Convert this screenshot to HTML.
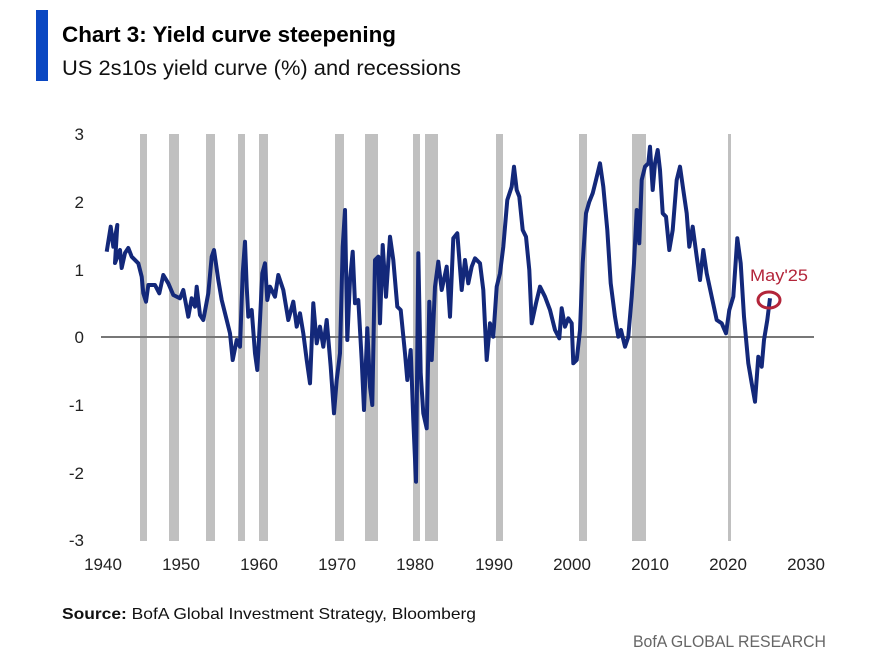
<!DOCTYPE html>
<html><head><meta charset="utf-8"><style>
html,body{margin:0;padding:0;background:#fff;}
svg{display:block;font-family:"Liberation Sans",sans-serif;}
</style></head><body>
<svg width="869" height="669" viewBox="0 0 869 669" xmlns="http://www.w3.org/2000/svg">
<rect x="36" y="10" width="12" height="71" fill="#0a47c2"/>
<text x="62" y="42" font-size="22" font-weight="bold" fill="#000" textLength="334" lengthAdjust="spacingAndGlyphs">Chart 3: Yield curve steepening</text>
<text x="62" y="75" font-size="21" fill="#111" textLength="399" lengthAdjust="spacingAndGlyphs">US 2s10s yield curve (%) and recessions</text>
<g fill="#c0c0c0">
<rect x="140" y="134" width="7" height="407"/>
<rect x="169" y="134" width="10" height="407"/>
<rect x="206" y="134" width="9" height="407"/>
<rect x="238" y="134" width="7" height="407"/>
<rect x="259" y="134" width="9" height="407"/>
<rect x="335" y="134" width="9" height="407"/>
<rect x="365" y="134" width="13" height="407"/>
<rect x="413" y="134" width="7" height="407"/>
<rect x="425" y="134" width="13" height="407"/>
<rect x="496" y="134" width="7" height="407"/>
<rect x="579" y="134" width="8" height="407"/>
<rect x="632" y="134" width="14" height="407"/>
<rect x="728" y="134" width="3" height="407"/>
</g>
<line x1="101" y1="337" x2="814" y2="337" stroke="#777" stroke-width="2"/>
<g font-size="17" fill="#222" text-anchor="end">
<text x="84" y="140">3</text><text x="84" y="208">2</text><text x="84" y="276">1</text>
<text x="84" y="343">0</text><text x="84" y="411">-1</text><text x="84" y="479">-2</text><text x="84" y="546">-3</text>
</g>
<g font-size="17" fill="#222" text-anchor="middle">
<text x="103" y="570">1940</text><text x="181" y="570">1950</text><text x="259" y="570">1960</text>
<text x="337" y="570">1970</text><text x="415" y="570">1980</text><text x="494" y="570">1990</text>
<text x="572" y="570">2000</text><text x="650" y="570">2010</text><text x="728" y="570">2020</text>
<text x="806" y="570">2030</text>
</g>
<polyline fill="none" stroke="#13287a" stroke-width="4" stroke-linejoin="round" points="
106.7,251.7 110.7,226.7 113.3,246.7 117.3,225 115,263 120,250 121.7,268 125,253 128.3,248 131.7,256.7 138.3,263.3 141.7,276.7 143.3,293.3 146,301.7 148.3,285 155,285 159.3,293.3 163.3,275 168.3,283.3 173.3,295 180,298.3 183.3,290 188.3,316.7 191.7,298.3 195,306.7 196.7,286.7 200,315 203.3,320 208.3,293.3 211.7,256.7 214,250 218.3,280 221.7,300 226.7,320 230,333.3 232.7,360 236.7,340 240,346.7 242.7,273.3 245,241.7 246.7,286.7 248.3,316.7 251.7,310 255,353.3 257.3,370 260,320 262.3,273.3 265,263.3 267.3,300 270,286.7 275,296.7 278.3,275 283.3,290 288.3,320 293.3,301.7 296.7,326.7 300,313.3 303.3,333.3 306.7,360 310,383.3 313.3,303.3 316.7,343.3 320,326.7 323.3,346.7 326.7,320 330.7,366.7 334,413.3 336.7,380 340,353.3 342.7,246.7 345,210 347.3,340 350,280 352.7,251.7 355,303.3 358.3,300 361.7,360 364,410 367.3,328.3 370,386.7 372.3,405 375,260 378.3,256.7 380,323.3 382.7,245 386,296.7 390,236.7 393.3,260 397.3,306.7 400.7,310 405,353.3 407.3,380 410.7,350 413.3,420 416,481.7 418.3,253.3 420.7,373.3 423.3,413.3 426.7,428.3 429.3,301.7 431.7,360 435,286.7 438.3,261.7 441.7,290 446.7,266.7 450,316.7 453.3,238.3 457.3,233.3 461.7,290 465,260 468.3,283.3 471.7,266.7 475,258.3 480,263.3 483.3,290 486.7,360 490,323.3 493.3,336.7 496.7,286.7 500,273.3 503.3,246.7 507.3,200 511.7,186.7 514,166.7 516.7,190 519.3,196.7 522.7,230 526,236.7 529.3,270 531.7,323.3 536,303.3 540,286.7 545,296.7 550,310 555,330 559.3,338.3 561.7,308.3 565,326.7 568.3,318.3 571.7,323.3 573.3,363.3 576.7,360 580,330 582.7,263.3 586,213.3 589.3,201.7 592.7,193.3 596,180 600,163.3 603.3,186.7 607.3,230 610.7,283.3 615,316.7 618.3,336.7 621,330 625,346.7 628.3,336.7 631.7,296.7 634,263.3 636.7,210 639.3,243.3 641.7,180 645,166.7 648.3,163.3 650,146.7 652.7,190 655,163.3 657.7,150 660,170 662.7,213.3 666,216.7 669.3,250 672.7,230 676.7,180 680,166.7 683.3,190 686.7,213.3 689.3,246.7 692.7,226.7 696.7,256.7 700,280 703.3,250 706.7,273.3 711.7,296.7 716.7,320 721.7,323.3 726,333.3 729.3,310 733.3,296.7 737.3,238.3 740.7,263.3 744,316.7 748.3,363.3 751.7,383.3 755,401.7 758.3,356.7 761.7,366.7 764,340 767.3,320 770,298.3"/>
<ellipse cx="769" cy="300" rx="11" ry="8" fill="none" stroke="#b3253a" stroke-width="3"/>
<text x="750" y="281" font-size="17" fill="#b3253a" textLength="58" lengthAdjust="spacingAndGlyphs">May'25</text>
<text x="62" y="619" font-size="16" fill="#111" textLength="414" lengthAdjust="spacingAndGlyphs"><tspan font-weight="bold">Source:</tspan> BofA Global Investment Strategy, Bloomberg</text>
<text x="826" y="647" font-size="17" fill="#666" text-anchor="end" textLength="193" lengthAdjust="spacingAndGlyphs">BofA GLOBAL RESEARCH</text>
</svg>
</body></html>
